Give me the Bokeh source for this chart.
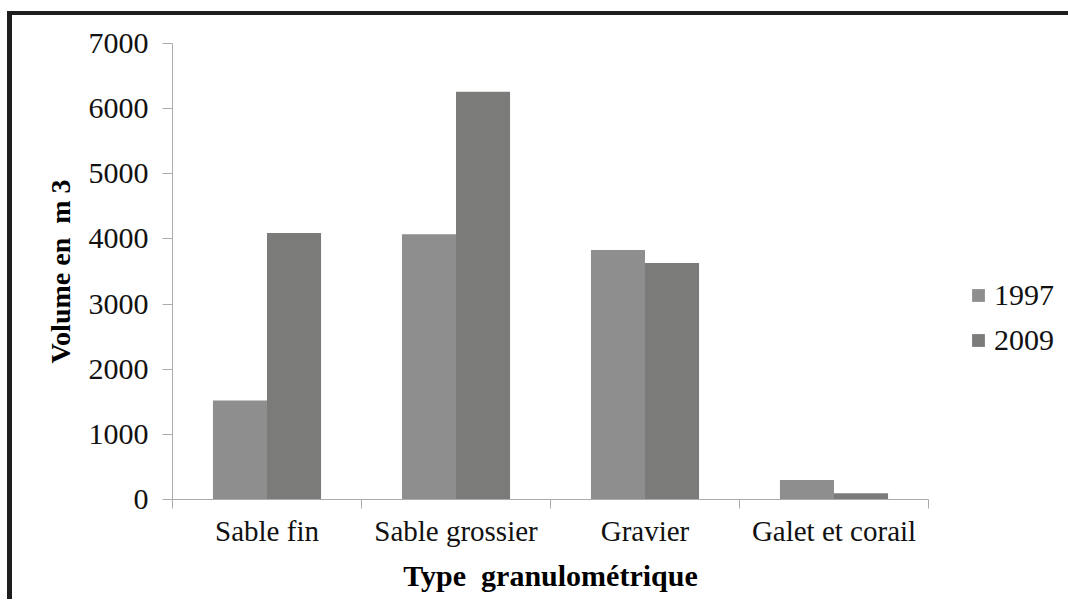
from bokeh.plotting import figure
from bokeh.models import ColumnDataSource, FixedTicker, Legend, LegendItem
from bokeh.transform import dodge
from bokeh.embed import file_html
from bokeh.resources import INLINE

categories = ["Sable fin", "Sable grossier", "Gravier", "Galet et corail"]
years = ["1997", "2009"]
vol_1997 = [1520, 4070, 3830, 300]
vol_2009 = [4090, 6260, 3630, 95]
y_ticks = [0, 1000, 2000, 3000, 4000, 5000, 6000, 7000]

colors = ["#8e8e8e", "#7b7b79"]
axis_color = "#ababab"
FONT = "Liberation Serif"

centers = [i + 0.5 for i in range(len(categories))]
source = ColumnDataSource(dict(x=centers, cat=categories, v1997=vol_1997, v2009=vol_2009))

p = figure(frame_width=756, frame_height=456,
           x_range=(0, len(categories)), y_range=(0, 7000),
           output_backend="svg", toolbar_location=None,
           min_border_left=160, min_border_right=132,
           min_border_top=28, min_border_bottom=100,
           styles={"margin-top": "11px", "margin-left": "7px",
                   "border-top": "4px solid #1e1e1e",
                   "border-left": "5px solid #1e1e1e"})

bw = 0.286
r1 = p.vbar(x=dodge("x", -bw / 2), top="v1997", width=bw, source=source,
            fill_color=colors[0], line_color=None)
r2 = p.vbar(x=dodge("x", bw / 2), top="v2009", width=bw, source=source,
            fill_color=colors[1], line_color=None)

legend = Legend(items=[LegendItem(label=years[0], renderers=[r1]),
                       LegendItem(label=years[1], renderers=[r2])],
                location=(42, 142), padding=0, margin=0,
                glyph_width=16, glyph_height=16, label_height=23,
                spacing=11, label_standoff=8,
                label_text_font=FONT, label_text_font_size="30px",
                label_text_color="#111111",
                border_line_color=None, background_fill_alpha=0)
p.add_layout(legend, "right")

p.xgrid.visible = False
p.ygrid.visible = False
p.outline_line_color = None
p.background_fill_color = "white"
p.border_fill_color = "white"

xa = p.xaxis[0]
xa.ticker = FixedTicker(ticks=centers, minor_ticks=list(range(len(categories) + 1)))
xa.major_label_overrides = {c: n for c, n in zip(centers, categories)}
xa.major_tick_line_color = None
xa.minor_tick_line_color = axis_color
xa.minor_tick_out = 9
xa.minor_tick_in = 0
xa.axis_line_color = axis_color
xa.major_label_text_font = FONT
xa.major_label_text_font_size = "29px"
xa.major_label_text_color = "#111111"
xa.major_label_standoff = 6
xa.axis_label = "Type\u00a0 granulométrique"
xa.axis_label_text_font = FONT
xa.axis_label_text_font_size = "30px"
xa.axis_label_text_font_style = "bold"
xa.axis_label_text_color = "black"
xa.axis_label_standoff = 9

ya = p.yaxis[0]
ya.ticker = FixedTicker(ticks=y_ticks)
ya.minor_tick_line_color = None
ya.major_tick_line_color = axis_color
ya.major_tick_out = 10
ya.major_tick_in = 0
ya.axis_line_color = axis_color
ya.major_label_text_font = FONT
ya.major_label_text_font_size = "30px"
ya.major_label_text_color = "#111111"
ya.major_label_standoff = 14
ya.axis_label = "Volume en\u00a0 m 3"
ya.axis_label_text_font = FONT
ya.axis_label_text_font_size = "28px"
ya.axis_label_text_font_style = "bold"
ya.axis_label_text_color = "black"
ya.axis_label_standoff = 10

open("out.html", "w").write(file_html(p, INLINE))
